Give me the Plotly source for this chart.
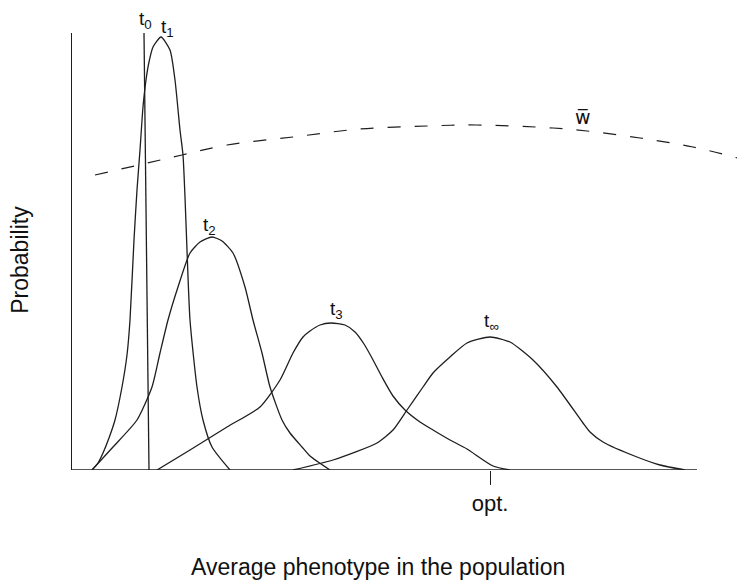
import plotly.graph_objects as go

# Phenotype (x) and probability (y) readings for each distribution
t0_x = [0.72, 0.77]
t0_y = [4.37, 0.0]

t1_x = [0.20, 0.26, 0.31, 0.37, 0.43, 0.50, 0.55, 0.58, 0.62, 0.65, 0.68, 0.71, 0.74, 0.77,
        0.81, 0.89, 0.98, 1.03, 1.08, 1.11, 1.13, 1.15, 1.18, 1.25, 1.31, 1.40, 1.58]
t1_y = [0.00, 0.07, 0.17, 0.32, 0.50, 0.83, 1.15, 1.50, 2.30, 2.80, 3.20, 3.63, 3.90, 4.08,
        4.23, 4.33, 4.20, 3.90, 3.40, 3.15, 2.73, 2.20, 1.50, 0.83, 0.50, 0.23, 0.00]

t2_x = [0.20, 0.41, 0.65, 0.80, 0.88, 0.96, 1.06, 1.18, 1.28, 1.40, 1.50, 1.61, 1.73,
        1.81, 1.90, 1.98, 2.10, 2.18, 2.30, 2.38, 2.58]
t2_y = [0.00, 0.23, 0.50, 0.83, 1.17, 1.50, 1.83, 2.17, 2.28, 2.33, 2.29, 2.17, 1.83,
        1.50, 1.17, 0.83, 0.50, 0.37, 0.23, 0.14, 0.00]

t3_x = [0.85, 1.18, 1.55, 1.88, 2.08, 2.21, 2.31, 2.38, 2.48, 2.59, 2.73, 2.83, 2.92,
        3.00, 3.10, 3.21, 3.33, 3.48, 3.61, 3.78, 3.95, 4.21, 4.38]
t3_y = [0.00, 0.20, 0.43, 0.63, 0.90, 1.17, 1.33, 1.39, 1.45, 1.47, 1.45, 1.38, 1.26,
        1.12, 0.93, 0.74, 0.60, 0.48, 0.40, 0.30, 0.21, 0.04, 0.00]

tinf_x = [2.21, 2.61, 3.05, 3.21, 3.35, 3.51, 3.61, 3.78, 3.95, 4.18, 4.38, 4.61, 4.85,
          5.11, 5.18, 5.31, 5.65, 5.88, 6.13]
tinf_y = [0.00, 0.10, 0.27, 0.40, 0.60, 0.83, 0.97, 1.13, 1.27, 1.33, 1.28, 1.10, 0.83,
          0.47, 0.38, 0.28, 0.13, 0.05, 0.00]

# Mean fitness curve (dashed)
w_x = [0.23, 0.71, 1.10, 1.55, 2.21, 2.88, 3.55, 4.05, 4.81, 5.15, 5.68, 6.21, 6.73]
w_y = [2.95, 3.06, 3.15, 3.25, 3.33, 3.41, 3.44, 3.45, 3.42, 3.39, 3.32, 3.23, 3.10]

opt_value = 4.18
x_axis_end = 6.25
y_top = 4.37

labels = ["t<sub>0</sub>", "t<sub>1</sub>", "t<sub>2</sub>", "t<sub>3</sub>", "t<sub>∞</sub>"]
label_x = [0.73, 0.95, 1.37, 2.64, 4.19]
label_y = [4.50, 4.42, 2.44, 1.60, 1.48]

LINE = "#1e1e1e"
FONT = "Liberation Sans, Arial, sans-serif"

fig = go.Figure()
for xs, ys, shape in [(t0_x, t0_y, "linear"), (t1_x, t1_y, "spline"), (t2_x, t2_y, "spline"),
                      (t3_x, t3_y, "spline"), (tinf_x, tinf_y, "spline")]:
    fig.add_trace(go.Scatter(x=xs, y=ys, mode="lines",
                             line=dict(color=LINE, width=1.3, shape=shape, smoothing=0.6),
                             showlegend=False, hoverinfo="skip"))
fig.add_trace(go.Scatter(x=w_x, y=w_y, mode="lines",
                         line=dict(color=LINE, width=1.2, shape="spline", dash="13px,14px"),
                         showlegend=False, hoverinfo="skip"))

# x axis line (ends before the right edge)
fig.add_shape(type="line", x0=0, x1=x_axis_end, y0=0, y1=0, xref="x", yref="y",
              line=dict(color=LINE, width=1.3))

for txt, lx, ly in zip(labels, label_x, label_y):
    fig.add_annotation(x=lx, y=ly / y_top, text=txt, showarrow=False, xref="x", yref="paper",
                       xanchor="center", yanchor="middle",
                       font=dict(family=FONT, size=19, color="#111"))
fig.add_annotation(x=5.11, y=3.53 / y_top, text="w\u0305", showarrow=False, xref="x", yref="paper",
                   xanchor="center", yanchor="middle",
                   font=dict(family="DejaVu Sans, sans-serif", size=19, color="#111"))

fig.add_annotation(x=-0.0765, y=0.48, xref="paper", yref="paper", text="Probability",
                   xanchor="center", yanchor="middle", borderpad=0,
                   textangle=-90, showarrow=False, font=dict(family=FONT, size=23, color="#111"))
fig.add_annotation(x=0.455, y=-0.222, xref="paper", yref="paper",
                   xanchor="center", yanchor="middle",
                   text="Average phenotype in the population", showarrow=False,
                   font=dict(family=FONT, size=23, color="#111"))

# page body has an 8px margin, so the figure is 8px smaller than the window
fig.update_layout(
    width=737, height=573,
    margin=dict(l=64, r=0, t=25, b=111),
    paper_bgcolor="white", plot_bgcolor="white",
    xaxis=dict(range=[0, 6.73], showgrid=False, zeroline=False, showline=False,
               tickvals=[opt_value], ticktext=["opt."], ticks="outside", ticklen=14,
               tickcolor=LINE, tickwidth=1.3,
               tickfont=dict(family=FONT, size=22, color="#111")),
    yaxis=dict(range=[0, y_top], showgrid=False, zeroline=False, showline=True,
               linecolor=LINE, linewidth=1.3, showticklabels=False, ticks=""),
)

fig.write_html("out.html")
